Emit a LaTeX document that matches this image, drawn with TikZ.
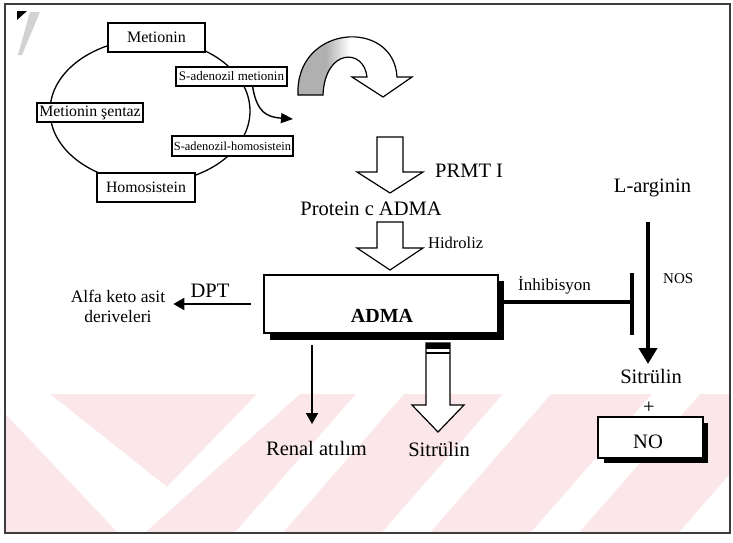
\documentclass[tikz,border=0pt]{standalone}
\usepackage{fontspec}
\setmainfont{Liberation Serif}
\usetikzlibrary{arrows.meta}
\definecolor{wmpink}{RGB}{251,230,233}
\definecolor{framegray}{RGB}{60,60,60}
\begin{document}
\begin{tikzpicture}[x=1pt,y=-1pt,
  cyclebox/.style={draw, line width=1.1pt, fill=white, inner sep=0pt},
  lbl/.style={inner sep=0pt, anchor=base, font=\fontsize{20.5}{22}\selectfont},
  small/.style={inner sep=0pt, anchor=base, font=\fontsize{17}{20}\selectfont},
  hollow/.style={draw, line width=1.2pt, fill=white, line join=miter},
  thinarrow/.style={line width=1.8pt, -{Triangle[width=12pt,length=11pt]}},
  shadowbox/.style={draw, line width=1.3pt, fill=white, inner sep=0pt},
]
\useasboundingbox (0,0) rectangle (733,542);

% faint background stripes in the lower part of the page
\fill[wmpink] (5,394) rectangle (730,532);
\begin{scope}
  \clip (5,394) rectangle (730,532);
  \fill[white] (0,394) -- (0,408) -- (122,537) -- (140,537) -- (300,394)
    -- (257,394) -- (167,487) -- (50,394) -- cycle;
  \foreach \a in {356,503,652,800}
    \fill[white] (\a,394) -- (\a+48,394) -- (\a-77,537) -- (\a-125,537) -- cycle;
\end{scope}

% page frame and corner marks
\draw[line width=1.2pt, framegray] (5,4) rectangle (730,533);
\fill (17,11) -- (27,11) -- (17,20) -- cycle;
\fill[gray!35] (30,12) -- (40,12) -- (22,55) -- (18,55) -- cycle;

% methionine cycle
\draw[line width=1.3pt] (150,111) ellipse [x radius=100pt, y radius=72pt];
\node[cyclebox, minimum width=97pt, minimum height=29pt,
      font=\fontsize{16}{18}\selectfont] (met) at (156.5,37.5) {Metionin};
\node[cyclebox, minimum width=111pt, minimum height=19pt,
      font=\fontsize{13}{15}\selectfont] (sam) at (231.5,76.5) {S-adenozil metionin};
\node[cyclebox, minimum width=121pt, minimum height=20pt,
      font=\fontsize{12.4}{14}\selectfont] (sah) at (232.5,146) {S-adenozil-homosistein};
\node[cyclebox, minimum width=106pt, minimum height=19pt,
      font=\fontsize{15.8}{18}\selectfont] (ms) at (90,112.5) {Metionin şentaz};
\node[cyclebox, minimum width=98pt, minimum height=29pt,
      font=\fontsize{15.8}{18}\selectfont] (hcy) at (146,187.5) {Homosistein};

% methyl group leaving the cycle
\coordinate (samtip) at (293,119);
\draw[line width=1.4pt, -{Triangle[width=10pt,length=12pt]}]
  ([xshift=-35pt]sam.south east) .. controls (257,112) and (266,117) .. (samtip);

% large curved hollow arrow
\def\bigbend{(298,95) .. controls (295,24) and (394,18) .. (397,77) -- (412,77)
  -- (383,97) -- (352,77) -- (367,77) .. controls (364,48) and (325,48) .. (323,95) -- cycle}
\begin{scope}
  \clip \bigbend;
  \fill[gray!62] (290,25) rectangle (326,100);
  \shade[left color=gray!62, right color=white] (326,25) rectangle (350,100);
\end{scope}
\draw[line width=1.2pt, line join=miter] \bigbend;

% PRMT I step
\draw[hollow] (377,137) -- (403,137) -- (403,172) -- (423,172) -- (390,193)
  -- (357,172) -- (377,172) -- cycle;
\node[lbl, anchor=base west] (prmt) at (435,177) {PRMT I};
\node[lbl] (pcadma) at (371,215) {Protein c ADMA};

% hydrolysis step
\draw[hollow] (377,222) -- (403,222) -- (403,248) -- (423,248) -- (390,270)
  -- (357,248) -- (377,248) -- cycle;
\node[small, anchor=base west, font=\fontsize{16.5}{18}\selectfont] (hid) at (428,248) {Hidroliz};

% ADMA box with shadow
\fill (270,281) rectangle (504,340);
\node[shadowbox, minimum width=234pt, minimum height=58pt] (adma) at (381,304) {};
\node[inner sep=0pt, anchor=base, font=\bfseries\fontsize{20}{22}\selectfont] (admatxt) at (382,322) {ADMA};

% DPT pathway
\node[small, align=center, font=\fontsize{17.5}{20}\selectfont] (alfa) at (118,322) {Alfa keto asit\\deriveleri};
\node[lbl] (dpt) at (210,297) {DPT};
\draw[thinarrow] ([xshift=-12pt]adma.west) -- ([xshift=8pt]alfa.east |- adma.west);

% renal excretion
\node[lbl] (renal) at (316.5,455) {Renal atılım};
\draw[thinarrow] (312,345) -- (312,424);

% conversion to citrulline
\draw[hollow] (426,343) -- (450,343) -- (450,405) -- (464,405) -- (438,432)
  -- (412,405) -- (426,405) -- cycle;
\fill (426,343) rectangle (450,349);
\draw[line width=2pt] (426,353) -- (450,353);
\node[lbl] (sit1) at (439,456) {Sitrülin};

% L-arginine / NOS branch
\node[lbl] (larg) at (652.5,192) {L-arginin};
\node[small, anchor=base west, font=\fontsize{15}{17}\selectfont] (nos) at (663,283) {NOS};
\coordinate (nosstart) at (648,222);
\coordinate (nosend) at (648,364);
\draw[line width=4pt, -{Triangle[width=18pt,length=16pt]}] (nosstart) -- (nosend);
\node[lbl] (sit2) at (651,383) {Sitrülin};
\node[lbl] (plus) at (649,413) {+};
\fill (604,423) rectangle (708,463);
\node[shadowbox, line width=1.1pt, minimum width=105pt, minimum height=41pt] (no) at (650.5,437.5) {};
\node[lbl] (notxt) at (648,448) {NO};

% inhibition of NOS by ADMA
\coordinate (inhbar) at (632,302);
\draw[line width=4pt] (adma.east |- inhbar) -- (inhbar);
\draw[line width=4.5pt] (632,273) -- (632,335);
\node[small, anchor=base west] (inh) at (518,290) {İnhibisyon};
\end{tikzpicture}
\end{document}
